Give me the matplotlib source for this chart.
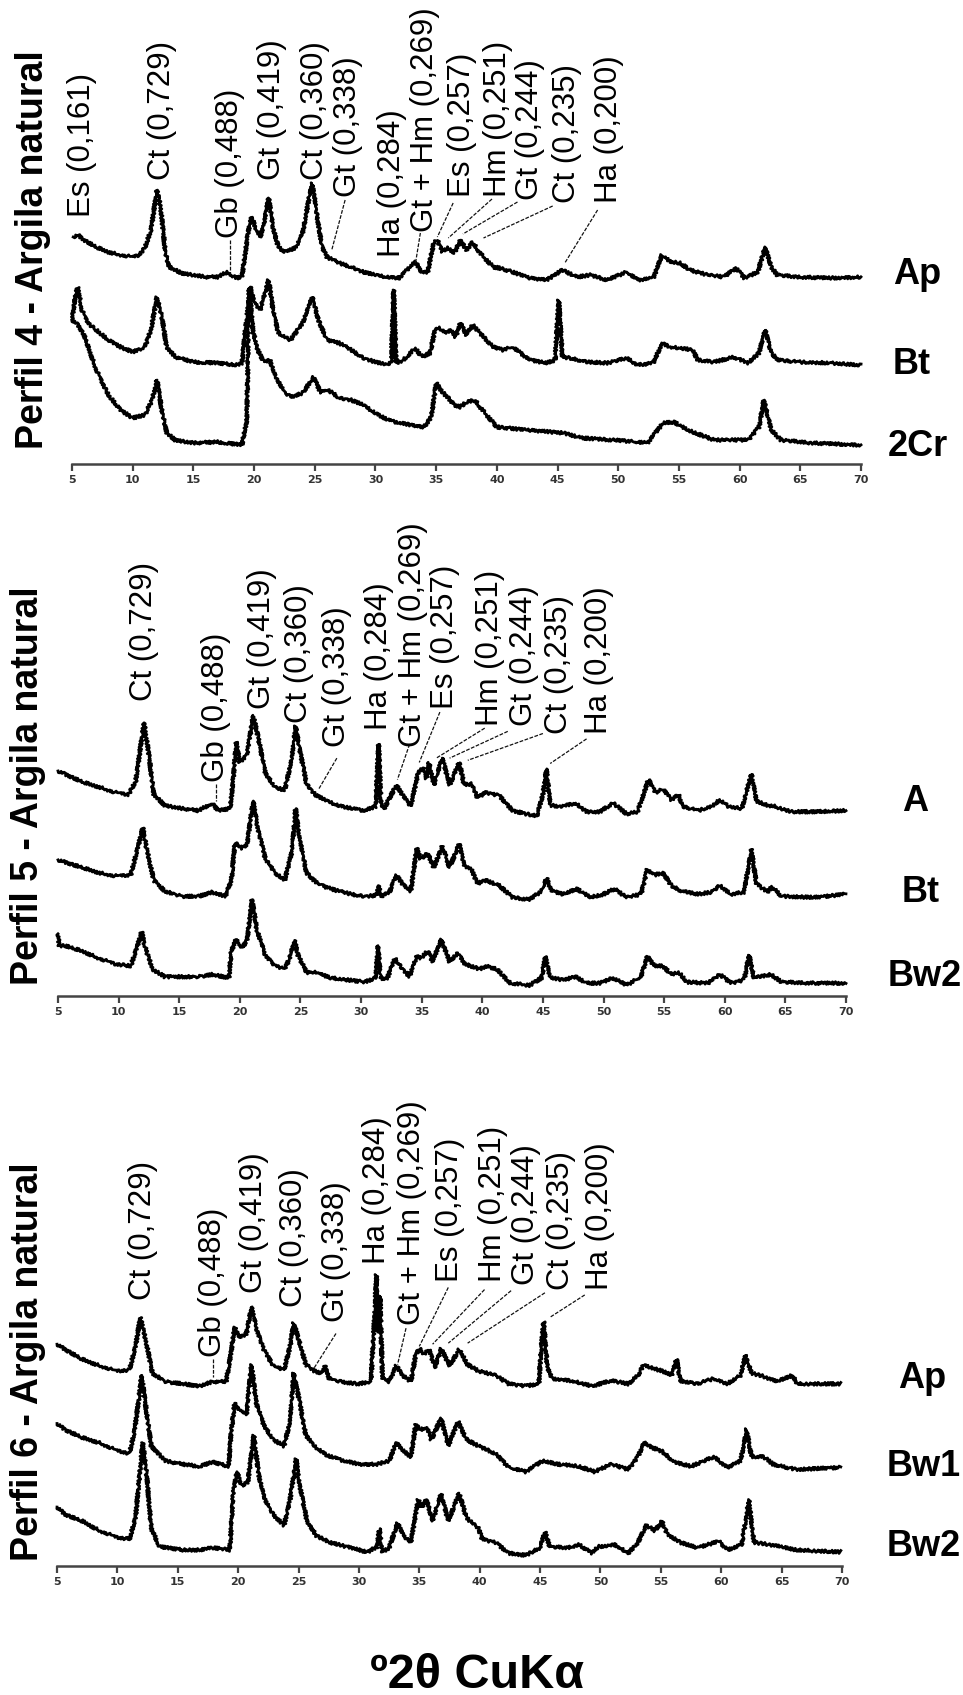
import matplotlib
matplotlib.use("Agg")
import matplotlib.pyplot as plt

W, H = 963, 1695

# ---- data: (2theta, intensity a.u.) ----
# Perfil 4
p4_ap = [(5.1, 45), (5.5, 47), (6, 42), (7, 35), (8, 30), (9, 27), (10, 25), (10.5, 27), (11, 34), (11.5, 52),
         (12, 92), (12.3, 75), (12.7, 29), (13, 15), (14, 9), (15, 7), (16, 5), (17, 5), (17.8, 10), (18.5, 4),
         (19, 5), (19.5, 49), (19.8, 65), (20.2, 52), (20.6, 45), (21.2, 84), (21.6, 52), (22, 35), (22.5, 30),
         (23, 32), (23.5, 35), (24, 49), (24.5, 82), (24.8, 99), (25.2, 65), (25.6, 35), (26, 25), (27, 19),
         (28, 15), (29, 10), (30, 7), (31, 5), (32, 4), (32.8, 15), (33.3, 20), (33.8, 10), (34.3, 10), (34.8, 39),
         (35.1, 42), (35.5, 30), (36, 34), (36.5, 29), (37, 42), (37.5, 32), (38, 40), (38.6, 29), (39.7, 15),
         (40.2, 14), (41.3, 10), (42.7, 4), (44.1, 2), (45.4, 12), (46.6, 5), (47.7, 7), (49.1, 2), (50.7, 10),
         (51.6, 2), (52.9, 4), (53.6, 27), (54.3, 20), (55.1, 19), (55.9, 12), (57.4, 7), (58.7, 5), (59.7, 14),
         (60.4, 4), (61.5, 10), (62.1, 35), (62.6, 15), (63.1, 7), (64.8, 5), (67.5, 4), (70, 5)]
p4_bt = [(5.0, 47), (5.3, 74), (5.5, 80), (5.8, 57), (6.2, 47), (6.5, 42), (7, 37), (8, 27), (9, 20), (10, 15),
         (11, 20), (11.5, 37), (12, 70), (12.4, 50), (12.8, 20), (13.5, 10), (15, 5), (17, 4), (18.5, 2), (19, 4),
         (19.4, 50), (19.7, 80), (20, 64), (20.5, 57), (21.2, 87), (21.6, 54), (22, 34), (23, 27), (24, 44),
         (24.8, 70), (25.3, 47), (26, 27), (27, 24), (28, 17), (29, 9), (30, 5), (31, 2), (31.3, 5), (31.5, 77),
         (31.7, 4), (32.3, 7), (33.3, 19), (33.8, 10), (34.5, 14), (34.9, 37), (35.3, 39), (35.7, 34), (36.2, 37),
         (36.6, 30), (37, 44), (37.5, 32), (38, 42), (38.6, 34), (39.7, 20), (40.5, 17), (41.3, 20), (42.7, 7),
         (44.1, 4), (44.8, 7), (45.1, 67), (45.4, 10), (46.0, 9), (47.4, 5), (49.1, 4), (50.7, 9), (51.6, 2),
         (52.9, 4), (53.6, 24), (54.3, 20), (55.1, 19), (56.2, 17), (56.5, 7), (57.9, 5), (59.5, 10), (60.7, 4),
         (61.6, 14), (62.1, 37), (62.6, 14), (63.2, 7), (64.8, 5), (67.5, 4), (70, 2)]
p4_2cr = [(5.0, 132), (5.5, 127), (6, 117), (7, 82), (8, 57), (9, 42), (10, 34), (11, 37), (11.6, 52), (12, 72),
          (12.4, 42), (12.8, 19), (13.5, 12), (15, 9), (17, 10), (19, 7), (19.4, 32), (19.6, 165), (19.9, 122),
          (20.3, 102), (20.8, 90), (21.3, 92), (21.8, 74), (22.5, 60), (23, 55), (24, 59), (24.9, 75), (25.5, 59),
          (26, 62), (26.5, 59), (27, 54), (28, 52), (29, 47), (30, 39), (31, 32), (32, 29), (33, 27), (34, 25),
          (34.6, 35), (35, 69), (35.5, 60), (36, 54), (36.5, 47), (37, 45), (37.5, 50), (38.2, 52), (38.6, 45),
          (40, 25), (42.5, 22), (45.5, 19), (47, 14), (49.6, 12), (52.4, 9), (53.7, 29), (54.6, 30), (55.7, 22),
          (57.9, 12), (60.7, 12), (61.6, 25), (62.0, 52), (62.6, 22), (63.4, 12), (66, 9), (70, 7)]

# Perfil 5
p5_a = [(5, 44), (5.6, 41), (7, 34), (8.4, 29), (9.7, 24), (10.8, 22), (11.4, 34), (11.8, 66), (12.1, 89),
        (12.5, 59), (12.9, 22), (13.8, 12), (15.2, 9), (16.6, 7), (17.7, 14), (18.2, 7), (19.2, 9), (19.5, 42),
        (19.7, 71), (20.0, 52), (20.6, 59), (21.1, 96), (21.5, 76), (22.1, 42), (22.9, 29), (23.7, 26), (24.3, 56),
        (24.6, 86), (24.9, 66), (25.5, 32), (26.2, 22), (27.0, 17), (28.1, 12), (29.2, 9), (30.3, 7), (31.2, 11),
        (31.45, 69), (31.65, 12), (31.9, 9), (32.5, 22), (32.9, 31), (33.4, 22), (34.1, 11), (34.7, 42), (35.1, 47),
        (35.4, 37), (35.6, 52), (36.0, 31), (36.7, 56), (37.3, 31), (38.1, 52), (38.5, 31), (39.1, 32), (39.6, 19),
        (40.3, 24), (41.4, 21), (42.5, 7), (43.6, 4), (44.5, 2), (45.0, 22), (45.3, 46), (45.6, 12), (46.4, 11),
        (47.7, 14), (48.6, 6), (49.7, 6), (50.8, 14), (51.9, 4), (52.8, 6), (53.3, 22), (53.7, 36), (54.3, 24),
        (54.9, 27), (55.6, 17), (56.2, 22), (56.5, 11), (57.8, 7), (58.9, 11), (59.6, 17), (60.3, 11), (61.4, 9),
        (61.9, 29), (62.2, 41), (62.6, 16), (63.5, 12), (64.1, 11), (65.5, 6), (67.4, 6), (70, 7)]
p5_bt = [(5, 39), (7, 32), (8.4, 27), (9.7, 24), (11.0, 25), (11.5, 47), (12.0, 69), (12.3, 50), (12.9, 20),
         (13.8, 10), (15.2, 5), (16.6, 5), (17.7, 9), (18.8, 5), (19.3, 20), (19.6, 55), (20.2, 50), (20.6, 54),
         (21.1, 94), (21.5, 67), (22.1, 40), (22.9, 27), (23.7, 20), (24.3, 47), (24.6, 87), (24.9, 60), (25.5, 27),
         (26.2, 19), (27.0, 14), (28.1, 10), (29.2, 7), (30.3, 5), (31.3, 6), (31.45, 15), (31.7, 5), (32.4, 10),
         (32.9, 25), (33.4, 17), (34.1, 10), (34.6, 50), (34.9, 40), (35.5, 45), (36.0, 32), (36.7, 52), (37.3, 32),
         (38.1, 54), (38.5, 34), (39.1, 30), (39.6, 17), (40.3, 20), (41.4, 15), (42.5, 4), (43.9, 2), (44.9, 10),
         (45.3, 22), (45.7, 10), (46.7, 7), (47.8, 12), (48.9, 4), (50.0, 7), (50.9, 12), (51.9, 4), (53.1, 7),
         (53.6, 30), (54.2, 25), (54.9, 27), (55.6, 15), (56.4, 10), (57.8, 7), (58.9, 9), (59.6, 15), (60.5, 7),
         (61.6, 9), (62.0, 37), (62.2, 49), (62.6, 17), (63.5, 9), (63.9, 14), (64.7, 5), (67.4, 4), (70, 7)]
p5_bw2 = [(5.0, 50), (5.1, 39), (5.6, 39), (7, 34), (8.4, 27), (9.7, 22), (11.0, 20), (11.5, 37), (11.9, 52),
          (12.2, 37), (12.8, 17), (13.8, 10), (15.2, 10), (16.6, 10), (17.7, 12), (19.1, 9), (19.3, 34), (19.7, 45),
          (20.2, 37), (20.6, 44), (21.0, 82), (21.4, 54), (22.1, 30), (22.9, 20), (23.7, 17), (24.1, 27), (24.5, 44),
          (24.8, 30), (25.5, 14), (26.2, 14), (27.5, 9), (28.9, 7), (30.3, 5), (31.2, 9), (31.4, 39), (31.6, 9),
          (32.1, 7), (32.8, 27), (33.3, 19), (34.0, 10), (34.6, 30), (34.9, 27), (35.5, 34), (35.9, 24), (36.6, 45),
          (37.3, 24), (38.0, 32), (38.5, 22), (39.3, 19), (39.8, 17), (40.3, 20), (41.2, 17), (42.3, 4), (43.9, 2),
          (44.9, 9), (45.2, 29), (45.6, 9), (46.7, 7), (47.7, 10), (48.6, 4), (49.7, 4), (50.8, 9), (51.9, 2),
          (53.1, 10), (53.6, 29), (54.2, 20), (54.9, 20), (55.6, 12), (56.2, 14), (56.9, 5), (58.6, 4), (59.6, 12),
          (60.5, 4), (61.6, 7), (62.0, 30), (62.4, 9), (63.8, 12), (64.7, 5), (67.4, 4), (70, 4)]

# Perfil 6
p6_ap = [(5, 41), (5.7, 36), (7.1, 27), (8.5, 21), (9.9, 16), (11.0, 17), (11.5, 39), (11.9, 66), (12.4, 42),
         (12.9, 14), (14.0, 6), (15.4, 4), (16.8, 2), (17.9, 6), (19.0, 6), (19.4, 32), (19.7, 57), (20.1, 47),
         (20.7, 51), (21.1, 76), (21.5, 56), (22.1, 36), (22.9, 21), (23.8, 17), (24.3, 39), (24.6, 61), (25.0, 46),
         (25.6, 22), (26.3, 16), (26.9, 14), (27.2, 21), (27.5, 9), (28.5, 6), (29.9, 4), (31.0, 6), (31.3, 69),
         (31.45, 106), (31.6, 52), (31.75, 86), (31.95, 9), (32.5, 6), (33.1, 21), (33.6, 12), (34.3, 6), (34.7, 31),
         (35.0, 37), (35.4, 32), (35.8, 36), (36.3, 19), (36.8, 37), (37.5, 21), (38.3, 36), (39.0, 22), (39.9, 16),
         (41.3, 12), (42.4, 4), (43.8, 2), (44.9, 4), (45.1, 39), (45.3, 62), (45.6, 19), (46.0, 9), (47.6, 7),
         (49.3, 2), (50.9, 7), (52.3, 4), (53.1, 12), (53.6, 22), (54.2, 19), (55.1, 16), (55.9, 12), (56.3, 27),
         (56.6, 7), (58.0, 4), (59.4, 9), (60.5, 4), (61.6, 12), (62.0, 31), (62.5, 14), (63.5, 11), (64.6, 6),
         (65.9, 12), (66.3, 4), (67.6, 4), (69.9, 4)]
p6_bw1 = [(5, 47), (5.7, 41), (7.1, 34), (8.5, 29), (9.9, 22), (11.0, 19), (11.4, 39), (11.8, 72), (12.0, 92),
          (12.4, 59), (12.8, 26), (14.0, 12), (15.4, 9), (16.8, 7), (17.9, 11), (19.2, 7), (19.4, 36), (19.7, 66),
          (20.1, 59), (20.7, 56), (21.1, 102), (21.5, 66), (22.1, 46), (22.9, 32), (23.8, 26), (24.3, 49), (24.6, 94),
          (25.0, 72), (25.6, 36), (26.3, 26), (27.4, 17), (28.8, 12), (30.1, 9), (31.5, 9), (32.5, 12), (33.1, 29),
          (33.6, 22), (34.3, 16), (34.7, 46), (35.1, 41), (35.6, 44), (36.0, 32), (36.8, 52), (37.4, 26), (38.2, 49),
          (38.9, 32), (39.9, 26), (41.3, 19), (42.4, 6), (43.8, 2), (45.2, 12), (46.5, 9), (48.2, 7), (49.5, 2),
          (50.9, 9), (52.3, 4), (53.1, 16), (53.6, 29), (54.4, 24), (55.1, 21), (56.1, 11), (57.5, 7), (59.4, 16),
          (60.5, 6), (61.6, 12), (62.1, 42), (62.5, 16), (63.5, 16), (64.3, 9), (66.2, 4), (69.9, 6)]
p6_bw2 = [(5, 47), (5.7, 40), (7.1, 34), (8.5, 25), (9.9, 19), (11.0, 17), (11.5, 37), (11.9, 84), (12.1, 107),
          (12.4, 80), (12.8, 27), (13.5, 10), (15.4, 7), (16.8, 7), (17.9, 9), (19.3, 7), (19.6, 60), (19.9, 80),
          (20.3, 67), (20.8, 70), (21.3, 114), (21.7, 77), (22.2, 54), (22.9, 40), (23.8, 30), (24.3, 54), (24.8, 92),
          (25.1, 67), (25.7, 34), (26.5, 20), (27.6, 14), (29.3, 9), (30.7, 5), (31.5, 10), (31.7, 27), (31.9, 5),
          (32.5, 9), (33.2, 32), (33.7, 20), (34.3, 14), (34.9, 54), (35.2, 47), (35.6, 54), (36.1, 34), (36.8, 59),
          (37.4, 34), (38.3, 60), (38.9, 37), (39.9, 27), (40.2, 17), (41.3, 14), (42.4, 4), (43.8, 2), (45.0, 9),
          (45.4, 24), (45.8, 10), (47.3, 9), (48.2, 12), (49.3, 4), (49.8, 10), (51.2, 12), (52.3, 4), (53.1, 14),
          (53.8, 30), (54.5, 25), (55.1, 34), (55.5, 22), (56.6, 14), (58.0, 9), (59.8, 15), (60.5, 7), (61.7, 12),
          (62.3, 54), (62.7, 14), (64.0, 12), (66.2, 7), (69.9, 5)]

samples = {
    "Perfil 4 - Argila natural": [("Ap", p4_ap), ("Bt", p4_bt), ("2Cr", p4_2cr)],
    "Perfil 5 - Argila natural": [("A", p5_a), ("Bt", p5_bt), ("Bw2", p5_bw2)],
    "Perfil 6 - Argila natural": [("Ap", p6_ap), ("Bw1", p6_bw1), ("Bw2", p6_bw2)],
}
offsets = [[182, 97, 12], [166, 88, 8], [166, 86, 8]]

# peak labels: text, 2theta, bottom of text, leader line
labels_p4 = [("Es (0,161)", 5.8, 247, None), ("Ct (0,729)", 12.4, 284, None),
             ("Gb (0,488)", 18.0, 226, ((18.0, 224), (18.0, 190))), ("Gt (0,419)", 21.5, 284, None),
             ("Ct (0,360)", 25.0, 284, None), ("Gt (0,338)", 27.7, 267, ((27.5, 264), (26.4, 214))),
             ("Ha (0,284)", 31.4, 207, None), ("Gt + Hm (0,269)", 34.1, 232, ((33.7, 231), (33.3, 201))),
             ("Es (0,257)", 37.1, 267, ((36.4, 261), (35.1, 227))), ("Hm (0,251)", 40.1, 267, ((39.6, 265), (36.0, 226))),
             ("Gt (0,244)", 42.7, 264, ((41.7, 262), (37.2, 230))), ("Ct (0,235)", 45.8, 261, ((44.6, 258), (38.9, 226))),
             ("Ha (0,200)", 49.2, 261, ((48.3, 254), (45.6, 201)))]
labels_p5 = [("Ct (0,729)", 12.1, 275, None), ("Gb (0,488)", 18.0, 200, ((18.0, 198), (18.0, 182))),
             ("Gt (0,419)", 21.8, 268, None), ("Ct (0,360)", 24.9, 255, None),
             ("Gt (0,338)", 28.0, 232, ((28.0, 222), (26.5, 193))), ("Ha (0,284)", 31.5, 248, None),
             ("Gt + Hm (0,269)", 34.3, 232, ((34.0, 235), (33.0, 202))), ("Es (0,257)", 36.9, 268, ((36.5, 265), (34.8, 218))),
             ("Hm (0,251)", 40.6, 252, ((40.2, 250), (36.2, 222))), ("Gt (0,244)", 43.4, 252, ((42.1, 247), (37.3, 222))),
             ("Ct (0,235)", 46.3, 245, ((45.0, 245), (38.8, 220))), ("Ha (0,200)", 49.6, 245, ((48.6, 240), (45.6, 217)))]
labels_p6 = [("Ct (0,729)", 12.1, 248, None), ("Gb (0,488)", 17.9, 195, ((17.9, 193), (17.9, 176))),
             ("Gt (0,419)", 21.3, 255, None), ("Ct (0,360)", 24.6, 242, None),
             ("Gt (0,338)", 28.1, 228, ((28.1, 217), (26.3, 185))), ("Ha (0,284)", 31.5, 282, None),
             ("Gt + Hm (0,269)", 34.4, 225, ((33.9, 222), (33.2, 188))), ("Es (0,257)", 37.5, 265, ((37.4, 260), (35.0, 205))),
             ("Hm (0,251)", 41.1, 265, ((40.4, 258), (36.1, 207))), ("Gt (0,244)", 43.8, 262, ((42.6, 257), (37.4, 208))),
             ("Ct (0,235)", 46.7, 258, ((45.4, 255), (39.0, 208))), ("Ha (0,200)", 50.0, 258, ((48.7, 253), (45.8, 232)))]
peak_labels = [labels_p4, labels_p5, labels_p6]

# ---- layout (pixels) ----
# x of 5 and 70 deg, y of axis line, top of panel, px per unit
panels = [(72, 861, 464, 0, 1.0), (58, 846, 996, 496, 1.0714), (57, 842, 1566, 1066, 1.0714)]
ylab_pos = [(33, 250), (28, 786), (28, 1362)]
name_pos = [[(893, 275), (893, 365), (888, 447)],
            [(902, 802), (902, 892), (888, 977)],
            [(898, 1379), (887, 1466), (887, 1546)]]

fig = plt.figure(figsize=(W / 100, H / 100), dpi=100)
lbl_font = "Liberation Sans"

for i, (title, traces) in enumerate(samples.items()):
    x5, x70, ay, ty, sc = panels[i]
    ax = fig.add_axes([x5 / W, 1 - ay / H, (x70 - x5) / W, (ay - ty) / H])
    ax.set_xlim(5, 70)
    ax.set_ylim(0, (ay - ty) / sc)
    ax.patch.set_alpha(0)
    for s in ["left", "right", "top"]:
        ax.spines[s].set_visible(False)
    ax.spines["bottom"].set_linewidth(1.8)
    ax.spines["bottom"].set_color("#444444")
    ax.set_yticks([])
    ax.set_xticks(range(5, 71, 5))
    ax.tick_params(axis="x", direction="out", length=5, width=1.6, color="#444444", pad=3)
    for t in ax.get_xticklabels():
        t.set_fontfamily("DejaVu Sans")
        t.set_fontweight("bold")
        t.set_fontsize(8)
        t.set_color("#333333")

    for j, (name, pts) in enumerate(traces):
        xs = [p[0] for p in pts]
        ys = [p[1] + offsets[i][j] for p in pts]
        ln, = ax.plot(xs, ys, color="black", lw=2.0, clip_on=False)
        ln.set_sketch_params(scale=1.5, length=3, randomness=2)
        nx, ny = name_pos[i][j]
        fig.text(nx / W, 1 - ny / H, name, family=lbl_font, fontsize=26, fontweight="bold",
                 ha="left", va="center")

    for txt, x, yb, lead in peak_labels[i]:
        ax.text(x, yb, txt, rotation=90, ha="center", va="bottom", family=lbl_font,
                fontsize=22.5, clip_on=False)
        if lead is not None:
            (xa, ya), (xb, yb2) = lead
            ax.plot([xa, xb], [ya, yb2], color="#111111", lw=0.9, ls=(0, (3, 1.2)), clip_on=False)

    cx, cy = ylab_pos[i]
    fig.text(cx / W, 1 - cy / H, title, rotation=90, family=lbl_font, fontsize=27,
             fontweight="bold", ha="center", va="center")

fig.text(477 / W, 1 - 1675 / H, "º2θ CuKα", family=lbl_font, fontsize=35, fontweight="bold",
         ha="center", va="center")

fig.savefig("out.png", dpi=100, facecolor="white")
